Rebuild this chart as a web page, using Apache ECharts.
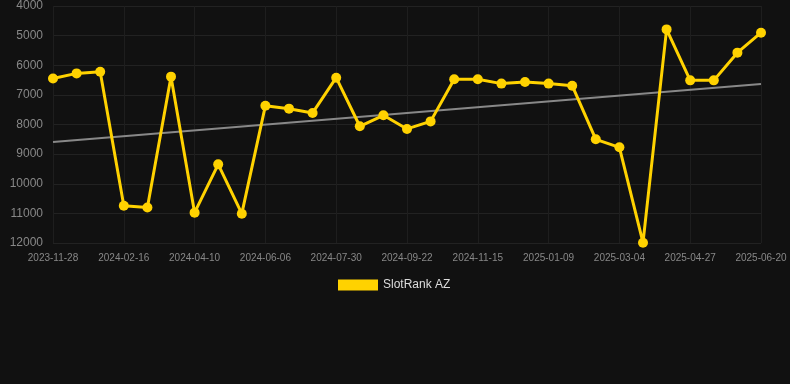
<!DOCTYPE html>
<html><head><meta charset="utf-8">
<script src="https://cdn.jsdelivr.net/npm/echarts@6/dist/echarts.min.js"></script>
<style>html,body{margin:0;padding:0;background:#111111;}#c{width:790px;height:384px;}</style>
</head><body><div id="c"></div>
<script>
const categories = ['2023-11-28','2023-12-25','2024-01-21','2024-02-16','2024-03-05','2024-03-23','2024-04-10','2024-04-29','2024-05-18','2024-06-06','2024-06-24','2024-07-12','2024-07-30','2024-08-17','2024-09-04','2024-09-22','2024-10-10','2024-10-28','2024-11-15','2024-12-04','2024-12-22','2025-01-09','2025-01-27','2025-02-14','2025-03-04','2025-03-22','2025-04-09','2025-04-27','2025-05-15','2025-06-02','2025-06-20'];
const rankValues = [6450,6275,6220,10740,10800,6385,10975,9345,11010,7365,7465,7610,6420,8060,7690,8150,7895,6475,6475,6620,6565,6620,6690,8500,8770,11990,4790,6510,6510,5575,4900];
const trendStart = 8590;
const trendEnd = 6630;
const yTicks = {min:4000, max:12000, interval:1000};

const trendData = categories.map((c,i)=> i===0 ? trendStart : (i===categories.length-1 ? trendEnd : null));

const chart = echarts.init(document.getElementById('c'));
chart.setOption({
  backgroundColor:'#111111',
  animation:false,
  grid:{left:53,right:29,top:6,bottom:141},
  legend:{
    data:['SlotRank AZ'],
    top:274,left:333,
    itemWidth:40,itemHeight:11,itemGap:10,
    icon:'rect',
    textStyle:{color:'#dddddd',fontSize:12,fontFamily:'Liberation Sans, Arial, sans-serif'}
  },
  xAxis:{
    type:'category',data:categories,boundaryGap:false,
    axisLine:{show:false},axisTick:{show:false},
    axisLabel:{interval:2,color:'#888888',fontSize:10,margin:10,fontFamily:'Liberation Sans, Arial, sans-serif'},
    splitLine:{show:true,interval:2,lineStyle:{color:'#1e1e1e',width:1}}
  },
  yAxis:{
    type:'value',inverse:true,min:yTicks.min,max:yTicks.max,interval:yTicks.interval,
    axisLine:{show:false},axisTick:{show:false},
    axisLabel:{color:'#888888',fontSize:12,margin:10,formatter:v=>String(v),fontFamily:'Liberation Sans, Arial, sans-serif'},
    splitLine:{show:true,lineStyle:{color:'#222222',width:1}}
  },
  series:[
    {name:'SlotRank AZ',type:'line',data:rankValues,color:'#FFD200',
     lineStyle:{width:3,color:'#FFD200'},symbol:'circle',symbolSize:10,
     itemStyle:{color:'#FFD200'},z:3},
    {name:'trend',type:'line',data:trendData,connectNulls:true,symbol:'none',
     lineStyle:{width:2,color:'#888888'},itemStyle:{color:'#888888'},z:2,silent:true}
  ]
});
</script></body></html>
